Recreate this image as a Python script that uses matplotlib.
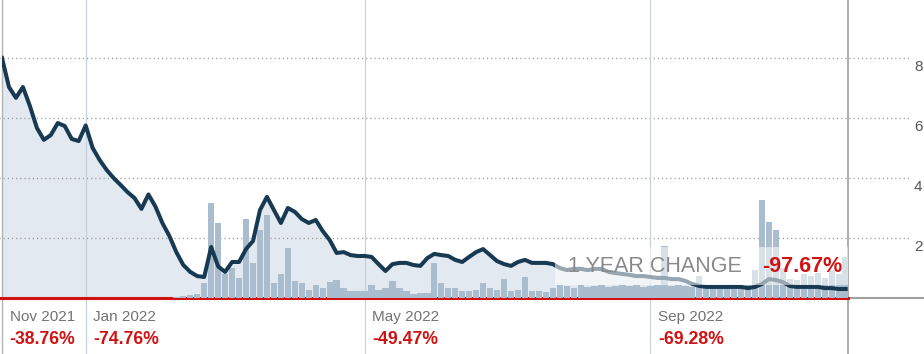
import matplotlib
matplotlib.use('Agg')
import matplotlib.pyplot as plt
import matplotlib.dates as mdates
import matplotlib.transforms as mtransforms
from matplotlib.patches import Rectangle
import pandas as pd

plt.rcParams['font.family'] = ['Liberation Sans', 'DejaVu Sans']

start_date = '2021-11-26'
end_date = '2022-11-25'
dates = pd.date_range(start_date, periods=122, freq='3D')
price = [
    8.00, 7.03, 6.67, 7.03, 6.40, 5.67, 5.27, 5.43, 5.83, 5.73,
    5.30, 5.23, 5.75, 5.00, 4.60, 4.27, 4.00, 3.77, 3.53, 3.33,
    2.97, 3.45, 3.05, 2.50, 2.07, 1.53, 1.10, 0.87, 0.73, 0.70,
    1.70, 1.05, 0.87, 1.20, 1.20, 1.63, 1.90, 2.93, 3.37, 2.93,
    2.50, 3.00, 2.87, 2.63, 2.50, 2.60, 2.23, 1.93, 1.50, 1.53,
    1.43, 1.40, 1.40, 1.37, 1.13, 0.90, 1.13, 1.17, 1.17, 1.10,
    1.07, 1.33, 1.47, 1.43, 1.40, 1.27, 1.20, 1.37, 1.53, 1.63,
    1.43, 1.23, 1.13, 1.07, 1.20, 1.27, 1.17, 1.17, 1.17, 1.13,
    1.00, 0.93, 0.97, 0.97, 0.93, 0.97, 0.97, 0.87, 0.83, 0.80,
    0.77, 0.73, 0.73, 0.70, 0.67, 0.67, 0.63, 0.63, 0.57, 0.47,
    0.40, 0.37, 0.37, 0.37, 0.37, 0.37, 0.37, 0.33, 0.37, 0.47,
    0.63, 0.60, 0.53, 0.40, 0.37, 0.37, 0.37, 0.37, 0.33, 0.33,
    0.30, 0.30,
]
# volume in millions, same dates
volume = [0.0] * 25 + [
    0.1, 0.2, 0.3, 0.4, 1.5,
    9.5, 7.5, 2.4, 3.0, 2.0, 7.9, 3.5, 6.8, 8.3, 1.5,
    2.4, 5.0, 1.7, 1.5, 0.8, 1.3, 1.0, 1.6, 1.8, 1.0,
    0.7, 0.7, 0.7, 1.3, 0.8, 1.0, 1.7, 1.0, 0.7, 0.4,
    0.5, 0.5, 3.5, 1.5, 1.0, 1.0, 0.7, 0.7, 0.8, 1.5,
    1.0, 0.8, 1.9, 0.7, 0.8, 2.1, 0.7, 0.7, 0.6, 1.0,
    1.3, 1.2, 1.0, 1.3, 1.1, 1.2, 1.3, 1.1, 1.2, 1.3,
    1.2, 1.3, 1.1, 1.2, 1.3, 5.2, 1.2, 1.3, 1.2, 1.1,
    2.2, 1.2, 1.3, 1.2, 1.1, 1.2, 1.1, 1.3, 2.8, 9.8,
    7.6, 6.8, 3.0, 1.9, 1.8, 2.4, 2.2, 2.5, 2.0, 2.8,
    2.4, 4.1,
]

y_ticks = [2, 4, 6, 8]
month_dates = ['2021-11-26', '2022-01-01', '2022-05-01', '2022-09-01']
month_labels = ['Nov 2021', 'Jan 2022', 'May 2022', 'Sep 2022']
month_changes = ['-38.76%', '-74.76%', '-49.47%', '-69.28%']
year_change = '-97.67%'

RED = '#d11212'
LINE = '#173a52'

fig = plt.figure(figsize=(9.24, 3.54), dpi=100)
rect = [2 / 924, 56 / 354, 846 / 924, 298 / 354]
ax = fig.add_axes(rect)
axv = fig.add_axes(rect, sharex=ax)
axl = fig.add_axes(rect, sharex=ax)
for a in (ax, axv, axl):
    a.set_xticks([])
    a.set_yticks([])
    for s in a.spines.values():
        s.set_visible(False)
axv.patch.set_visible(False)
axl.patch.set_visible(False)

x0 = mdates.datestr2num(start_date)
x1 = mdates.datestr2num(end_date)
ax.set_xlim(x0, x1)
ax.set_ylim(0, 9.93)
axl.set_ylim(0, 9.93)
axv.set_ylim(0, 29.8)

# area under price
ax.fill_between(dates, price, 0, color='#e3e9f0', lw=0)

# grid lines (run past the plot to the labels)
for v in y_ticks:
    ax.axhline(v, xmin=-0.003, xmax=1.072, color='#9a9a9a', lw=1.0,
               dashes=(0.8, 2.2), clip_on=False)
    ax.text(1.078, v - 0.08, str(v), transform=ax.get_yaxis_transform(),
            ha='left', va='top', fontsize=11, color='#555555')

# vertical month lines
for d in month_dates[1:]:
    ax.axvline(mdates.datestr2num(d), ymin=-0.19, ymax=1, color='#c6d1db',
               lw=0.9, clip_on=False)
ax.axvline(x0, ymin=-0.19, ymax=1, color='#b5b5b5', lw=1.0, clip_on=False)
ax.axvline(x1, ymin=-0.19, ymax=1, color='#a0a0a0', lw=1.2, clip_on=False)

# volume bars
axv.bar(dates, volume, width=2.75, color='#aabdce', lw=0)

# price line
axl.plot(dates, price, color=LINE, lw=2.9, solid_joinstyle='round')

# translucent box behind the one-year change
box_x = mdates.datestr2num('2022-07-22')
axl.add_patch(Rectangle((box_x, 0.43), x1 - box_x, 1.27, facecolor='white',
                        alpha=0.55, lw=0, zorder=5))

# bottom axis line
ax.axhline(0, xmin=-0.003, xmax=1, color=RED, lw=2.2, clip_on=False, zorder=6)
ax.axhline(0, xmin=1, xmax=1.09, color='#a0a0a0', lw=1.5, clip_on=False)

# month labels with change
offset = mtransforms.ScaledTranslation(7.5 / 100, 0, fig.dpi_scale_trans)
trans = ax.get_xaxis_transform() + offset
for d, lab, chg in zip(month_dates, month_labels, month_changes):
    xd = mdates.datestr2num(d)
    ax.text(xd, -0.077, lab, transform=trans, ha='left', va='baseline',
            fontsize=11, color='#737373')
    ax.text(xd, -0.154, chg, transform=trans, ha='left', va='baseline',
            fontsize=12.7, color=RED, fontweight='bold')

fig.text(568 / 924, 1 - 272 / 354, '1 YEAR CHANGE', ha='left', va='baseline',
         fontsize=15.5, color='#8a8a8a')
fig.text(842 / 924, 1 - 272 / 354, year_change, ha='right', va='baseline',
         fontsize=15.5, color=RED, fontweight='bold')

fig.savefig('out.png', dpi=100)
